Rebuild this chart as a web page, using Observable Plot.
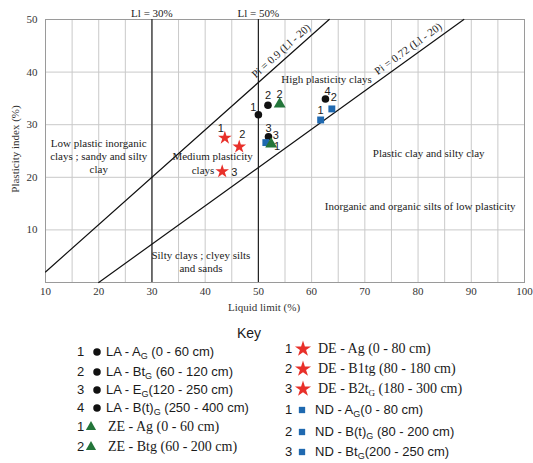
<!DOCTYPE html>
<html><head><meta charset="utf-8">
<script src="https://cdn.jsdelivr.net/npm/d3@7"></script>
<script src="https://cdn.jsdelivr.net/npm/@observablehq/plot@0.6"></script>
<style>
body{margin:0;background:#fff;}
#wrap{position:relative;width:533px;height:463px;overflow:hidden;background:#fff;}
#legend{position:absolute;left:0;top:318px;width:533px;height:145px;}
.row{position:absolute;height:20px;line-height:20px;white-space:nowrap;color:#1a1a1a;}
.sans{font-family:"Liberation Sans",Arial,sans-serif;font-size:13px;}
.serif{font-family:"Liberation Serif","Times New Roman",serif;font-size:14px;}
.num{position:absolute;font-family:"Liberation Sans",Arial,sans-serif;font-size:13px;height:20px;line-height:20px;color:#1a1a1a;}
.mk{position:absolute;}
sub{font-size:9px;vertical-align:-3px;line-height:0;}
</style></head>
<body><div id="wrap"><div id="chart"></div><div id="legend"></div></div>
<script>
// ---- data ----
const profile = ["LA","LA","LA","LA","ZE","ZE","DE","DE","DE","ND","ND","ND"];
const sampleNo = [1,2,3,4,1,2,1,2,3,1,2,3];
const liquidLimit = [50.0,51.8,51.9,62.6,52.4,54.0,43.7,46.4,43.2,61.7,63.8,51.4];
const plasticityIndex = [31.9,33.7,27.7,34.9,26.3,33.9,27.5,25.8,21.1,30.9,33.0,26.6];

// boundary lines (end points)
const upperLineLL = [10,63.3];
const upperLinePI = [2,50];
const lowerLineLL = [20,88.6];
const lowerLinePI = [0,50];

const xTicks = [10,20,30,40,50,60,70,80,90,100];
const yTicks = [10,20,30,40,50];

const zoneText = ["Low plastic inorganic\nclays ; sandy and silty\nclay","Medium plasticity","clays","High plasticity clays","Plastic clay and silty clay","Inorganic and organic silts of low plasticity","Silty clays ; clyey silts\nand sands"];
const zoneLL = [20.0,41.4,39.6,62.8,82.0,80.4,39.2];
const zonePI = [24.1,24.1,21.5,38.8,24.7,14.6,4.1];

const legendLeftNums = [1,2,3,4,1,2];
const legendLeftGroups = ["LA","LA","LA","LA","ZE","ZE"];
const legendLeftLabels = ["LA - A<sub>G</sub> (0 - 60 cm)","LA - Bt<sub>G</sub> (60 - 120 cm)","LA - E<sub>G</sub>(120 - 250 cm)","LA - B(t)<sub>G</sub> (250 - 400 cm)","ZE - Ag (0 - 60 cm)","ZE - Btg (60 - 200 cm)"];
const legendRightNums = [1,2,3,1,2,3];
const legendRightGroups = ["DE","DE","DE","ND","ND","ND"];
const legendRightLabels = ["DE - Ag (0 - 80 cm)","DE - B1tg (80 - 180 cm)","DE - B2t<sub>G</sub> (180 - 300 cm)","ND - A<sub>G</sub>(0 - 80 cm)","ND - B(t)<sub>G</sub> (80 - 200 cm)","ND - Bt<sub>G</sub>(200 - 250 cm)"];

// ---- styles ----
const symbolOf = {LA:"circle", ZE:"triangle", DE:"star", ND:"square"};
const colorOf = {LA:"#111111", ZE:"#23753a", DE:"#e8302a", ND:"#1f69b0"};
const rOf = {LA:3.8, ZE:4.4, DE:4.3, ND:3.9};
const fontOf = {LA:"sans", ZE:"serif", DE:"serif", ND:"sans"};
const labelOffsets = [[-5,-7],[0,-10],[0,-8],[2,-7],[6,2],[0,-10],[-4,-9],[3,-12],[12,1],[0,-9],[2,-11],[10,-7]];

const points = profile.map((g,i)=>({group:g, n:sampleNo[i], ll:liquidLimit[i], pi:plasticityIndex[i], i}));
const upperLine = upperLineLL.map((x,i)=>({x, y:upperLinePI[i]}));
const lowerLine = lowerLineLL.map((x,i)=>({x, y:lowerLinePI[i]}));
const zones = zoneText.map((t,i)=>({t, x:zoneLL[i], y:zonePI[i]}));

const drawOrder = ["LA","ND","ZE","DE"];

const plot = Plot.plot({
  width: 533, height: 318,
  marginLeft: 45, marginRight: 9, marginTop: 19, marginBottom: 36,
  style: {fontFamily: "Liberation Serif, serif", fontSize: "11px", color: "#222", background: "#fff"},
  x: {domain: [10,100]},
  y: {domain: [0,50]},
  marks: [
    Plot.ruleX(d3.range(15,100,5), {stroke:"#c9c9c9", strokeWidth:1}),
    Plot.ruleY([10,20,30,40], {stroke:"#c9c9c9", strokeWidth:1}),
    Plot.frame({stroke:"#9a9a9a", strokeWidth:1}),
    Plot.ruleX([30,50], {stroke:"#222", strokeWidth:1.2}),
    Plot.line(upperLine, {x:"x", y:"y", stroke:"#111", strokeWidth:1.2}),
    Plot.line(lowerLine, {x:"x", y:"y", stroke:"#111", strokeWidth:1.2}),
    Plot.axisX({ticks: xTicks, tickSize: 0, tickPadding: 5, label: null, fill:"#333"}),
    Plot.axisY({ticks: yTicks, tickSize: 0, tickPadding: 8, label: null, fill:"#333"}),
    Plot.text(["Liquid limit (%)"], {frameAnchor:"bottom", textAnchor:"middle", lineAnchor:"middle", dy: 25, dx: -21, fill:"#333"}),
    Plot.text(["Plasticity index (%)"], {frameAnchor:"left", textAnchor:"middle", lineAnchor:"middle", rotate:-90, dx:-30, dy:-2, fill:"#333"}),
    Plot.text(["Ll = 30%"], {x:()=>30, frameAnchor:"top", lineAnchor:"middle", dy:-6, fill:"#222"}),
    Plot.text(["Ll = 50%"], {x:()=>50, frameAnchor:"top", lineAnchor:"middle", dy:-6, fill:"#222"}),
    Plot.text(["Pi = 0.9 (Ll - 20)"], {x:()=>55.4, y:()=>42.8, rotate:-42, textAnchor:"middle", lineAnchor:"middle", dx:-6, dy:-6.5, fill:"#222"}),
    Plot.text(["Pi = 0.72 (Ll - 20)"], {x:()=>79.1, y:()=>43.1, rotate:-36, textAnchor:"middle", lineAnchor:"middle", dx:-5.1, dy:-7, fill:"#222"}),
    Plot.text(zones, {x:"x", y:"y", text:"t", lineHeight:1.22, fill:"#222"}),
    ...drawOrder.map(g => Plot.dot(points.filter(d=>d.group===g), {x:"ll", y:"pi", symbol:symbolOf[g], r:rOf[g], fill:colorOf[g], stroke:"none"})),
    ...points.map(d => Plot.text([d], {x:"ll", y:"pi", text:d=>String(d.n), dx:labelOffsets[d.i][0], dy:labelOffsets[d.i][1], fontFamily:"Liberation Sans, Arial, sans-serif", fontSize:11, fill:"#222"}))
  ]
});
document.getElementById("chart").appendChild(plot);

// ---- legend ----
const legend = document.getElementById("legend");
function marker(g, cx, cy, size){
  const s = 24;
  const svg = d3.create("svg").attr("width", s).attr("height", s)
    .attr("class","mk").style("left",(cx - s/2)+"px").style("top",(cy - s/2)+"px");
  const type = {circle:d3.symbolCircle, triangle:d3.symbolTriangle, star:d3.symbolStar, square:d3.symbolSquare}[symbolOf[g]];
  svg.append("path").attr("transform",`translate(${s/2},${s/2})`).attr("d", d3.symbol(type, size)()).attr("fill", colorOf[g]);
  legend.appendChild(svg.node());
}
const key = document.createElement("div");
key.className = "row sans"; key.style.left = "237px"; key.style.top = (15-10)+"px"; key.style.fontSize = "14px"; key.textContent = "Key";
legend.appendChild(key);

const leftY = [34,54,72,90,109,129];
const rightY = [31,51,71,92,114,134];
const markerArea = {LA:44, ZE:45, DE:80, ND:40};
function addRow(num, g, label, y, numX, mkX, textX){
  const n = document.createElement("div");
  n.className = "num"; n.style.left = numX+"px"; n.style.top = (y-10)+"px"; n.textContent = num;
  legend.appendChild(n);
  marker(g, mkX, y, markerArea[g]);
  const t = document.createElement("div");
  t.className = "row " + fontOf[g]; t.style.left = textX+"px"; t.style.top = (y-10)+"px"; t.innerHTML = label;
  legend.appendChild(t);
}
legendLeftNums.forEach((num,i)=>{
  const g = legendLeftGroups[i];
  addRow(num, g, legendLeftLabels[i], leftY[i], 77, g==="ZE"?91:97, g==="ZE"?108:106);
});
legendRightNums.forEach((num,i)=>{
  const g = legendRightGroups[i];
  addRow(num, g, legendRightLabels[i], rightY[i], 285, g==="DE"?303:302, g==="DE"?318:315);
});
</script></body></html>
